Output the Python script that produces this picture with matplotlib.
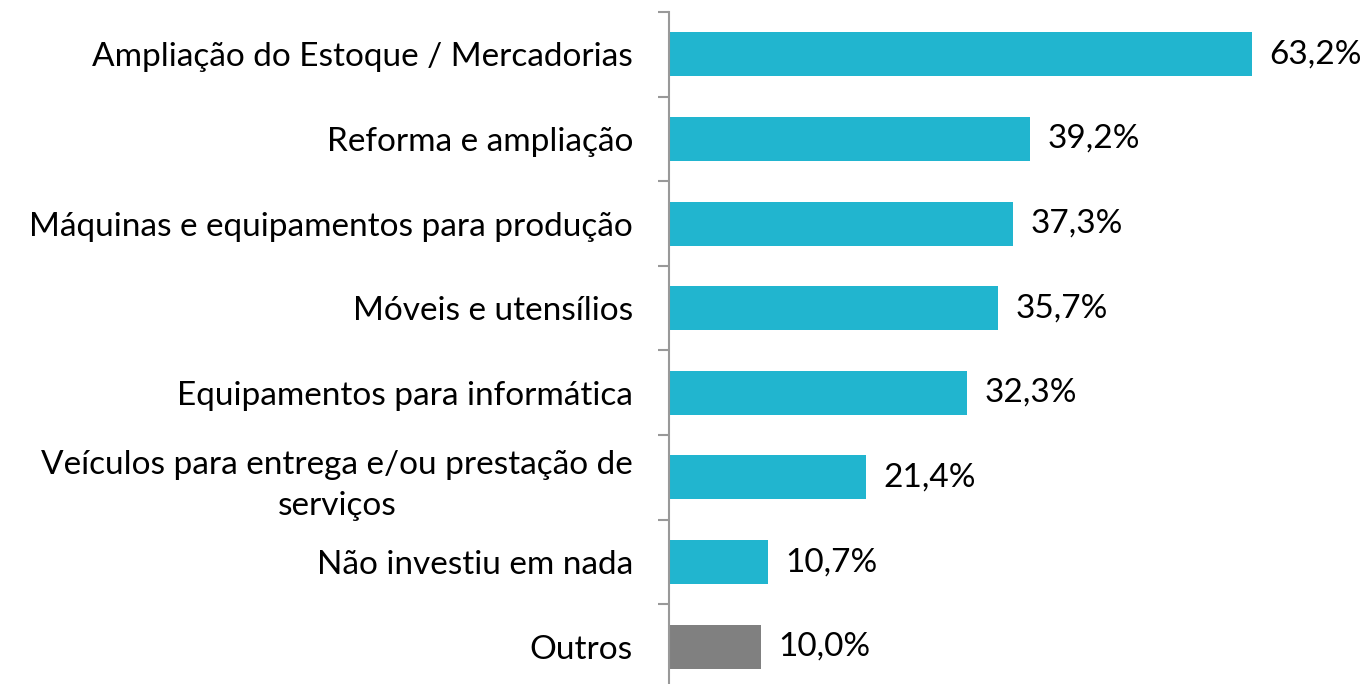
import numpy as np
import matplotlib.pyplot as plt

plt.rcParams["font.family"] = ["Lato", "DejaVu Sans"]

# dados
categorias = [
    "Ampliação do Estoque / Mercadorias",
    "Reforma e ampliação",
    "Máquinas e equipamentos para produção",
    "Móveis e utensílios",
    "Equipamentos para informática",
    "Veículos para entrega e/ou prestação de\nserviços",
    "Não investiu em nada",
    "Outros",
]
valores = [63.2, 39.2, 37.3, 35.7, 32.3, 21.4, 10.7, 10.0]
rotulos = ["63,2%", "39,2%", "37,3%", "35,7%", "32,3%", "21,4%", "10,7%", "10,0%"]
cores = ["#21B5CF"] * 7 + ["#808080"]

fig = plt.figure(figsize=(13.66, 6.84), dpi=100)
ax = fig.add_axes([0.4898, -0.0073, 0.5102, 0.9898])

y = np.arange(len(categorias))
ax.barh(y, valores, height=0.52, color=cores)

for yi, v, r in zip(y, valores, rotulos):
    ax.text(v + 1.9, yi, r, va="center", ha="left", fontsize=24)

ax.set_xlim(0, 75.6)
ax.set_ylim(len(categorias) - 0.5, -0.5)

ax.set_yticks(y)
ax.set_yticklabels(categorias, fontsize=24, multialignment="center", linespacing=1.45)
ax.tick_params(axis="y", which="major", length=0, pad=26)
ax.set_yticks(np.arange(-0.5, len(categorias), 1), minor=True)
ax.tick_params(axis="y", which="minor", length=8, width=1.5, color="#999999")
ax.set_xticks([])

for s in ["top", "right", "bottom"]:
    ax.spines[s].set_visible(False)
ax.spines["left"].set_color("#999999")
ax.spines["left"].set_linewidth(1.5)

plt.savefig("out.png", dpi=100)
